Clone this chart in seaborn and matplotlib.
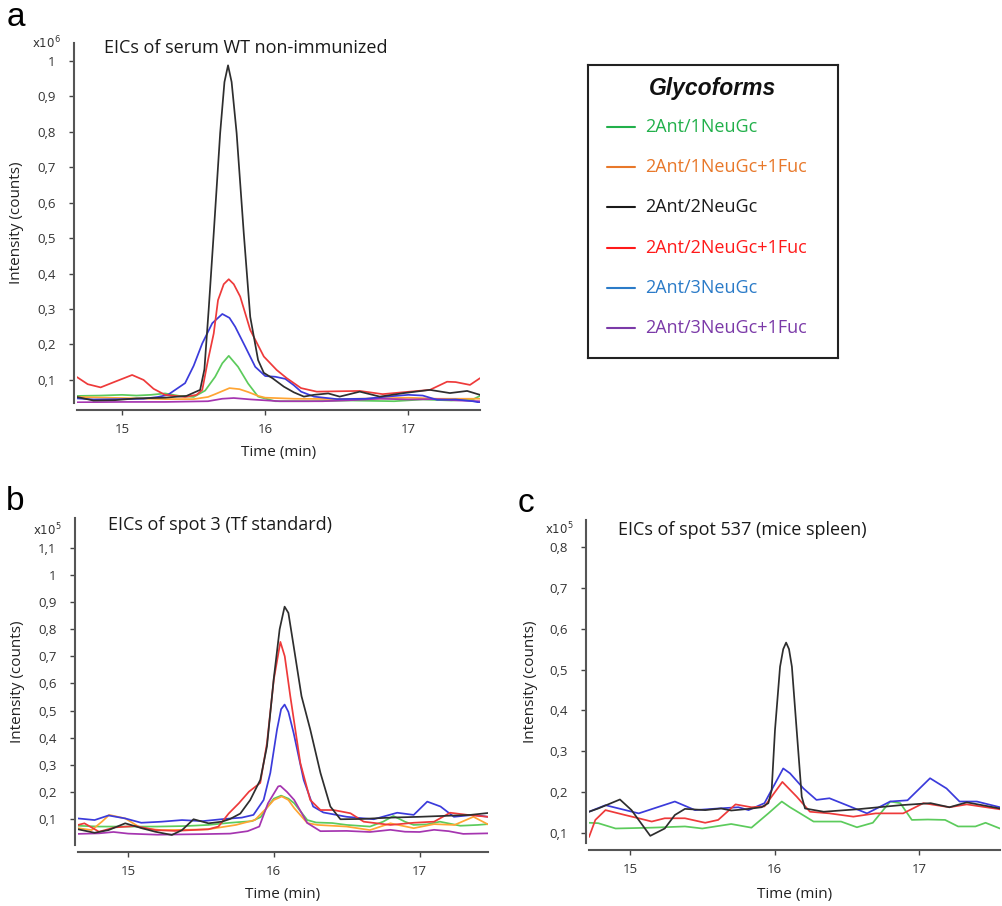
import numpy as np
import pandas as pd
import matplotlib
matplotlib.use("Agg")
import matplotlib.pyplot as plt
import seaborn as sns

sns.set_theme(style="ticks")
plt.rcParams["font.family"] = ["Open Sans", "DejaVu Sans"]

# ------------------------------------------------------------
# Data (time in min, intensity in the axis units)
# ------------------------------------------------------------
GLYCOFORMS = ["2Ant/1NeuGc", "2Ant/1NeuGc+1Fuc", "2Ant/2NeuGc",
              "2Ant/2NeuGc+1Fuc", "2Ant/3NeuGc", "2Ant/3NeuGc+1Fuc"]

# panel a: serum WT non-immunized (x10^6)
A_GREEN = [(14.685, 0.055), (14.85, 0.056), (15.0, 0.058), (15.1, 0.056), (15.2, 0.058),
           (15.3, 0.062), (15.4, 0.055), (15.5, 0.052), (15.58, 0.07), (15.65, 0.109),
           (15.70, 0.147), (15.745, 0.168), (15.81, 0.137), (15.88, 0.09), (15.95, 0.053),
           (16.07, 0.04), (16.3, 0.04), (16.6, 0.042), (16.9, 0.04), (17.1, 0.045),
           (17.3, 0.042), (17.45, 0.045), (17.5, 0.055)]
A_ORANGE = [(14.685, 0.052), (14.9, 0.05), (15.1, 0.048), (15.3, 0.046), (15.5, 0.046),
            (15.6, 0.052), (15.65, 0.06), (15.75, 0.077), (15.82, 0.074), (15.88, 0.066),
            (15.95, 0.055), (16.0, 0.05), (16.2, 0.047), (16.5, 0.046), (16.8, 0.048),
            (17.0, 0.05), (17.2, 0.047), (17.5, 0.047)]
A_BLACK = [(14.685, 0.052), (14.8, 0.042), (14.95, 0.043), (15.1, 0.048), (15.3, 0.05),
           (15.45, 0.055), (15.545, 0.072), (15.575, 0.13), (15.605, 0.30), (15.64, 0.513),
           (15.685, 0.796), (15.715, 0.94), (15.74, 0.987), (15.765, 0.94), (15.80, 0.796),
           (15.85, 0.513), (15.895, 0.278), (15.95, 0.156), (15.99, 0.12), (16.05, 0.105),
           (16.13, 0.081), (16.2, 0.065), (16.27, 0.053), (16.34, 0.058), (16.44, 0.062),
           (16.52, 0.053), (16.66, 0.067), (16.8, 0.053), (16.97, 0.063), (17.15, 0.072),
           (17.29, 0.063), (17.41, 0.069), (17.5, 0.058)]
A_RED = [(14.685, 0.108), (14.76, 0.088), (14.85, 0.079), (14.95, 0.095), (15.07, 0.114),
         (15.15, 0.1), (15.22, 0.075), (15.30, 0.058), (15.44, 0.052), (15.52, 0.058),
         (15.56, 0.072), (15.60, 0.156), (15.64, 0.231), (15.67, 0.325), (15.71, 0.37),
         (15.745, 0.384), (15.78, 0.37), (15.825, 0.335), (15.895, 0.241), (15.99, 0.166),
         (16.08, 0.128), (16.15, 0.105), (16.25, 0.077), (16.36, 0.067), (16.5, 0.068),
         (16.66, 0.069), (16.82, 0.06), (17.01, 0.067), (17.15, 0.072), (17.27, 0.095),
         (17.33, 0.094), (17.43, 0.086), (17.5, 0.105)]
A_BLUE = [(14.685, 0.048), (14.8, 0.045), (15.0, 0.046), (15.15, 0.047), (15.25, 0.052),
          (15.32, 0.058), (15.44, 0.091), (15.5, 0.14), (15.56, 0.203), (15.63, 0.26),
          (15.70, 0.286), (15.75, 0.275), (15.79, 0.25), (15.86, 0.194), (15.93, 0.137),
          (16.0, 0.111), (16.07, 0.109), (16.14, 0.103), (16.2, 0.085), (16.25, 0.067),
          (16.34, 0.053), (16.5, 0.046), (16.7, 0.047), (16.85, 0.053), (17.0, 0.058),
          (17.1, 0.056), (17.2, 0.044), (17.33, 0.045), (17.45, 0.04), (17.5, 0.036)]
A_PURPLE = [(14.685, 0.037), (15.0, 0.038), (15.3, 0.038), (15.6, 0.04), (15.7, 0.047),
            (15.78, 0.049), (15.9, 0.045), (16.1, 0.04), (16.4, 0.04), (16.6, 0.043),
            (16.8, 0.047), (17.0, 0.045), (17.2, 0.046), (17.35, 0.042), (17.5, 0.04)]

# panel b: spot 3, Tf standard (x10^5)
B_GREEN = [(14.656, 0.075), (14.8, 0.072), (15.0, 0.072), (15.2, 0.072), (15.4, 0.074),
           (15.55, 0.078), (15.7, 0.086), (15.85, 0.092), (15.91, 0.107), (15.95, 0.14),
           (16.0, 0.175), (16.05, 0.186), (16.1, 0.175), (16.14, 0.158), (16.23, 0.096),
           (16.29, 0.087), (16.4, 0.085), (16.5, 0.078), (16.66, 0.072), (16.75, 0.09),
           (16.82, 0.111), (16.9, 0.09), (16.96, 0.078), (17.05, 0.08), (17.14, 0.09),
           (17.28, 0.075), (17.4, 0.078), (17.47, 0.081)]
B_ORANGE = [(14.656, 0.066), (14.75, 0.059), (14.82, 0.09), (14.87, 0.115), (14.98, 0.102),
            (15.09, 0.066), (15.23, 0.059), (15.4, 0.06), (15.55, 0.062), (15.74, 0.078),
            (15.87, 0.096), (15.95, 0.14), (16.0, 0.17), (16.055, 0.183), (16.1, 0.17),
            (16.14, 0.14), (16.23, 0.085), (16.3, 0.078), (16.5, 0.072), (16.66, 0.059),
            (16.8, 0.084), (16.96, 0.066), (17.1, 0.081), (17.24, 0.078), (17.37, 0.108),
            (17.47, 0.08)]
B_BLACK = [(14.656, 0.062), (14.77, 0.049), (14.865, 0.059), (14.98, 0.084), (15.094, 0.066),
           (15.186, 0.053), (15.30, 0.041), (15.37, 0.059), (15.449, 0.099), (15.552, 0.084),
           (15.644, 0.09), (15.70, 0.1), (15.77, 0.12), (15.838, 0.17), (15.907, 0.244),
           (15.953, 0.368), (15.999, 0.615), (16.04, 0.8), (16.074, 0.883), (16.10, 0.86),
           (16.136, 0.738), (16.19, 0.553), (16.25, 0.43), (16.32, 0.27), (16.388, 0.146),
           (16.457, 0.099), (16.6, 0.1), (16.8, 0.105), (17.0, 0.108), (17.2, 0.112),
           (17.35, 0.115), (17.47, 0.122)]
B_RED = [(14.656, 0.078), (14.70, 0.084), (14.80, 0.053), (14.91, 0.069), (15.05, 0.074),
         (15.19, 0.059), (15.32, 0.056), (15.55, 0.062), (15.62, 0.072), (15.69, 0.12),
         (15.76, 0.158), (15.83, 0.201), (15.907, 0.233), (15.953, 0.38), (16.0, 0.615),
         (16.045, 0.753), (16.075, 0.7), (16.113, 0.553), (16.182, 0.306), (16.25, 0.17),
         (16.32, 0.133), (16.41, 0.133), (16.526, 0.121), (16.617, 0.09), (16.8, 0.078),
         (16.96, 0.086), (17.10, 0.09), (17.21, 0.123), (17.33, 0.115), (17.47, 0.108)]
B_BLUE = [(14.656, 0.102), (14.77, 0.096), (14.865, 0.113), (14.98, 0.102), (15.09, 0.086),
          (15.23, 0.09), (15.37, 0.096), (15.51, 0.092), (15.64, 0.099), (15.78, 0.105),
          (15.86, 0.115), (15.93, 0.17), (15.976, 0.27), (16.022, 0.43), (16.05, 0.505),
          (16.074, 0.522), (16.10, 0.495), (16.136, 0.417), (16.205, 0.244), (16.27, 0.146),
          (16.34, 0.124), (16.5, 0.108), (16.686, 0.099), (16.847, 0.123), (16.96, 0.115),
          (17.053, 0.164), (17.144, 0.146), (17.236, 0.108), (17.37, 0.115), (17.47, 0.108)]
B_PURPLE = [(14.656, 0.045), (14.8, 0.047), (14.9, 0.052), (15.0, 0.046), (15.2, 0.042),
            (15.5, 0.044), (15.7, 0.046), (15.82, 0.055), (15.90, 0.072), (15.96, 0.158),
            (16.03, 0.22), (16.045, 0.222), (16.09, 0.2), (16.14, 0.17), (16.23, 0.085),
            (16.32, 0.055), (16.5, 0.056), (16.66, 0.052), (16.8, 0.06), (16.9, 0.053),
            (17.0, 0.052), (17.1, 0.06), (17.2, 0.055), (17.3, 0.045), (17.47, 0.047)]

# panel c: spot 537, mice spleen (x10^5) - only four glycoforms detected
C_GREEN = [(14.716, 0.125), (14.78, 0.124), (14.90, 0.111), (15.15, 0.113), (15.38, 0.116),
           (15.50, 0.111), (15.70, 0.122), (15.84, 0.113), (15.957, 0.148), (16.05, 0.177),
           (16.107, 0.163), (16.14, 0.156), (16.27, 0.128), (16.46, 0.128), (16.57, 0.114),
           (16.68, 0.125), (16.80, 0.177), (16.87, 0.173), (16.95, 0.132), (17.06, 0.133),
           (17.18, 0.132), (17.27, 0.116), (17.39, 0.116), (17.46, 0.125), (17.56, 0.111)]
C_BLACK = [(14.716, 0.152), (14.78, 0.16), (14.93, 0.182), (15.01, 0.156), (15.14, 0.093),
           (15.24, 0.111), (15.31, 0.144), (15.38, 0.159), (15.52, 0.156), (15.63, 0.16),
           (15.70, 0.155), (15.82, 0.159), (15.91, 0.163), (15.957, 0.173), (15.98, 0.205),
           (16.003, 0.352), (16.038, 0.507), (16.06, 0.55), (16.08, 0.566), (16.10, 0.55),
           (16.12, 0.507), (16.153, 0.352), (16.188, 0.189), (16.211, 0.16), (16.34, 0.152),
           (16.57, 0.158), (16.87, 0.168), (17.08, 0.173), (17.21, 0.163), (17.33, 0.175),
           (17.56, 0.16)]
C_RED = [(14.716, 0.09), (14.76, 0.132), (14.83, 0.156), (14.965, 0.144), (15.06, 0.136),
         (15.15, 0.128), (15.24, 0.136), (15.38, 0.136), (15.52, 0.125), (15.61, 0.132),
         (15.73, 0.17), (15.84, 0.163), (15.93, 0.165), (16.054, 0.225), (16.153, 0.189),
         (16.245, 0.152), (16.38, 0.148), (16.545, 0.14), (16.70, 0.148), (16.89, 0.148),
         (17.03, 0.173), (17.21, 0.163), (17.33, 0.17), (17.56, 0.158)]
C_BLUE = [(14.716, 0.152), (14.83, 0.168), (15.06, 0.148), (15.31, 0.177), (15.45, 0.156),
          (15.61, 0.16), (15.75, 0.163), (15.82, 0.156), (15.93, 0.173), (16.06, 0.258),
          (16.107, 0.246), (16.2, 0.209), (16.29, 0.181), (16.38, 0.185), (16.50, 0.168),
          (16.64, 0.148), (16.80, 0.177), (16.92, 0.18), (17.076, 0.234), (17.19, 0.209),
          (17.28, 0.177), (17.40, 0.177), (17.56, 0.163)]

X_TICKS = [15, 16, 17]
A_YTICKS = [0.1, 0.2, 0.3, 0.4, 0.5, 0.6, 0.7, 0.8, 0.9, 1.0]
A_YLABELS = ["0,1", "0,2", "0,3", "0,4", "0,5", "0,6", "0,7", "0,8", "0,9", "1"]
B_YTICKS = [0.1, 0.2, 0.3, 0.4, 0.5, 0.6, 0.7, 0.8, 0.9, 1.0, 1.1]
B_YLABELS = ["0,1", "0,2", "0,3", "0,4", "0,5", "0,6", "0,7", "0,8", "0,9", "1", "1,1"]
C_YTICKS = [0.1, 0.2, 0.3, 0.4, 0.5, 0.6, 0.7, 0.8]
C_YLABELS = ["0,1", "0,2", "0,3", "0,4", "0,5", "0,6", "0,7", "0,8"]

# colours of the traces and of the legend entries
LINE_COLORS = {"2Ant/1NeuGc": "#5ccb5c", "2Ant/1NeuGc+1Fuc": "#ffa533",
               "2Ant/2NeuGc": "#2e2e2e", "2Ant/2NeuGc+1Fuc": "#ee3a3a",
               "2Ant/3NeuGc": "#3b3bdb", "2Ant/3NeuGc+1Fuc": "#a535b0"}
LEGEND_COLORS = ["#22b04b", "#e8782a", "#1a1a1a", "#ff1a1a", "#2b7bc8", "#7b3aa8"]

W, H = 1003, 906


def to_frame(series):
    rows = []
    for name, pts in series:
        for t, v in pts:
            rows.append({"time": t, "intensity": v, "glycoform": name})
    return pd.DataFrame(rows)


def draw_panel(rect, series, xlim, ylim, yticks, ylabels, title, expo,
               ylab_x, xlab_y, letter, letter_xy, title_xy, expo_xy):
    ax = fig.add_axes(rect)
    df = to_frame(series)
    sns.lineplot(data=df, x="time", y="intensity", hue="glycoform",
                 palette=LINE_COLORS, estimator=None, linewidth=1.25,
                 legend=False, ax=ax)
    ax.set_xlim(*xlim)
    ax.set_ylim(*ylim)
    ax.set_xticks(X_TICKS)
    ax.set_xticklabels([str(x) for x in X_TICKS])
    ax.set_yticks(yticks)
    ax.set_yticklabels(ylabels)
    ax.tick_params(axis="both", labelsize=9.5, colors="#444444", labelcolor="#333333",
                   length=3.5, width=1.0)
    ax.tick_params(axis="x", pad=6)
    ax.tick_params(axis="y", pad=10)
    for lab in ax.get_xticklabels() + ax.get_yticklabels():
        lab.set_family("DejaVu Sans")
    sns.despine(ax=ax)
    ax.spines["left"].set_position(("outward", 2))
    ax.spines["bottom"].set_position(("outward", 5))
    for s in ("left", "bottom"):
        ax.spines[s].set_color("#555555")
        ax.spines[s].set_linewidth(1.5)
    ax.set_xlabel("Time (min)", fontsize=11, color="#222222")
    ax.set_ylabel("Intensity (counts)", fontsize=11, color="#222222")
    ax.xaxis.set_label_coords(0.5, xlab_y)
    ax.yaxis.set_label_coords(ylab_x, 0.5)
    fig.text(title_xy[0] / W, 1 - title_xy[1] / H, title, fontsize=13,
             color="#1a1a1a", va="center", ha="left")
    fig.text(expo_xy[0] / W, 1 - expo_xy[1] / H, expo, fontsize=8.5,
             color="#333333", va="center", ha="left", family="DejaVu Sans")
    fig.text(letter_xy[0] / W, 1 - letter_xy[1] / H, letter, fontsize=24,
             color="black", va="center", ha="left", family="Liberation Sans")
    return ax


fig = plt.figure(figsize=(W / 100, H / 100), dpi=100)

draw_panel([77 / W, 1 - 403 / H, 403 / W, 360 / H],
           [(GLYCOFORMS[0], A_GREEN), (GLYCOFORMS[1], A_ORANGE), (GLYCOFORMS[5], A_PURPLE),
            (GLYCOFORMS[4], A_BLUE), (GLYCOFORMS[3], A_RED), (GLYCOFORMS[2], A_BLACK)],
           (14.685, 17.50), (0.035, 1.05), A_YTICKS, A_YLABELS,
           "EICs of serum WT non-immunized", r"x10$^{6}$",
           -0.1315, -0.117, "a", (7, 18), (104, 48), (32, 43))

draw_panel([78 / W, 1 - 845 / H, 410 / W, 327 / H],
           [(GLYCOFORMS[0], B_GREEN), (GLYCOFORMS[1], B_ORANGE), (GLYCOFORMS[5], B_PURPLE),
            (GLYCOFORMS[4], B_BLUE), (GLYCOFORMS[3], B_RED), (GLYCOFORMS[2], B_BLACK)],
           (14.656, 17.47), (0.004, 1.21), B_YTICKS, B_YLABELS,
           "EICs of spot 3 (Tf standard)", r"x10$^{5}$",
           -0.129, -0.128, "b", (6, 501), (108, 525), (33, 530))

draw_panel([589 / W, 1 - 843 / H, 411 / W, 323 / H],
           [(GLYCOFORMS[0], C_GREEN), (GLYCOFORMS[4], C_BLUE), (GLYCOFORMS[3], C_RED),
            (GLYCOFORMS[2], C_BLACK)],
           (14.716, 17.56), (0.0755, 0.866), C_YTICKS, C_YLABELS,
           "EICs of spot 537 (mice spleen)", r"x10$^{5}$",
           -0.124, -0.136, "c", (518, 504), (618, 530), (545, 529))

# legend box drawn as its own axes
lg = fig.add_axes([588 / W, 1 - 358 / H, 250 / W, 293 / H])
lg.set_xlim(0, 250)
lg.set_ylim(293, 0)
lg.set_xticks([])
lg.set_yticks([])
for s in lg.spines.values():
    s.set_color("#222222")
    s.set_linewidth(1.5)
lg.text(125, 23, "Glycoforms", ha="center", va="center", fontsize=16.5,
        fontweight="bold", fontstyle="italic", family="Liberation Sans", color="#111111")
for i, (name, col) in enumerate(zip(GLYCOFORMS, LEGEND_COLORS)):
    yy = 62 + i * 40.2
    lg.plot([19, 47], [yy, yy], color=col, linewidth=1.5)
    lg.text(57, yy, name, ha="left", va="center", fontsize=13, color=col)

fig.savefig("out.png", dpi=100)
